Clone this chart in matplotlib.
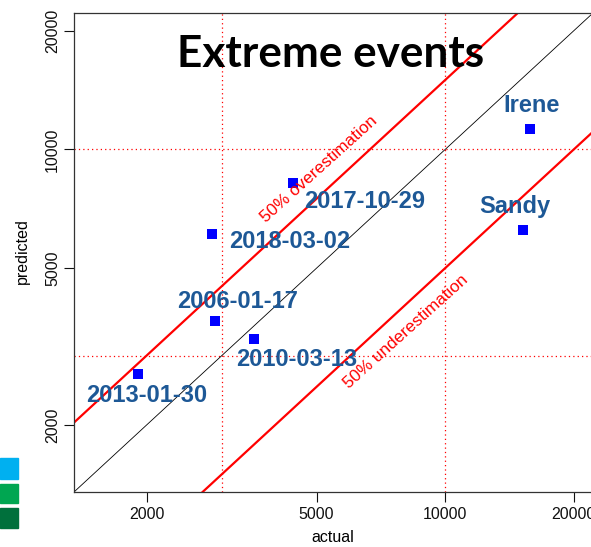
import numpy as np
import matplotlib
matplotlib.use("Agg")
import matplotlib.pyplot as plt
from matplotlib.patches import Rectangle

# ---- data ----
events = ["2013-01-30", "2006-01-17", "2010-03-13", "2018-03-02", "2017-10-29", "Irene", "Sandy"]
actual = [1906, 2899, 3575, 2852, 4411, 15785, 15197]
predicted = [2692, 3667, 3302, 6089, 8198, 11295, 6232]
# label offsets in pixels (dx, dy)
label_offsets = [(9, -21), (22, 20), (42, -20), (77, -7), (71, -18), (2, 23), (-8, 24)]
ticks = [2000, 5000, 10000, 20000]
tick_labels = ["2000", "5000", "10000", "20000"]
ref_lines = [3000, 10000]
over_ratio = 1.5
under_ratio = 0.5

W, H = 591, 547
fig = plt.figure(figsize=(W / 100, H / 100), dpi=100)
plt.rcParams['font.family'] = ['Liberation Sans', 'DejaVu Sans']

# slide background fragments on the left
for (y0, y1, c) in [(458, 479, '#00b0f0'), (484, 503, '#00a651'), (508, 528, '#00703c')]:
    fig.patches.append(Rectangle((0, (H - y1) / H), 18 / W, (y1 - y0) / H,
                                 transform=fig.transFigure, color=c, zorder=0))

L, R, T, B = 74, 593, 13, 492
ax = fig.add_axes([L / W, (H - B) / H, (R - L) / W, (B - T) / H])
ax.set_xscale('log')
ax.set_yscale('log')
lo = 10 ** (np.log10(1500) - 0.04 * (np.log10(20000) - np.log10(1500)))
hi = 10 ** (np.log10(20000) + 0.04 * (np.log10(20000) - np.log10(1500)))

xx = np.array([100, 100000])
ax.plot(xx, xx, color='black', lw=0.6, zorder=2)
ax.plot(xx, over_ratio * xx, color='red', lw=1.6, zorder=2)
ax.plot(xx, under_ratio * xx, color='red', lw=1.6, zorder=2)
for v in ref_lines:
    ax.axvline(v, color='red', lw=0.9, ls=(0, (1, 2.5)), zorder=1)
    ax.axhline(v, color='red', lw=0.9, ls=(0, (1, 2.5)), zorder=1)

ax.set_xlim(lo, hi)
ax.set_ylim(lo, hi)

ax.scatter(actual, predicted, marker='s', s=62, color='#0000ff', zorder=4, linewidths=0)
for name, x, y, (dx, dy) in zip(events, actual, predicted, label_offsets):
    ax.annotate(name, (x, y), xytext=(dx, dy), textcoords='offset pixels',
                ha='center', va='center', fontsize=17, fontweight='bold',
                color='#1d5896', zorder=5)

fig.text(319 / W, (H - 169) / H, "50% overestimation", rotation=42, color='red',
         fontsize=12.3, ha='center', va='center', rotation_mode='anchor')
fig.text(406 / W, (H - 332) / H, "50% underestimation", rotation=42, color='red',
         fontsize=12.3, ha='center', va='center', rotation_mode='anchor')

fig.text(331 / W, (H - 67) / H, "Extreme events", fontsize=31.8, fontweight='bold',
         family=['Lato', 'DejaVu Sans'], ha='center', va='baseline', color='black', zorder=6)

ax.set_xticks(ticks)
ax.set_xticklabels(tick_labels)
ax.set_yticks(ticks)
ax.set_yticklabels(tick_labels, rotation=90, va='center')
ax.minorticks_off()
ax.tick_params(axis='both', direction='out', length=7, width=0.8, labelsize=11.5,
               colors='#111111', pad=3)
ax.tick_params(axis='x', pad=4)
for s in ax.spines.values():
    s.set_color('#333333')
    s.set_linewidth(0.9)

fig.text(333 / W, (H - 538) / H, "actual", fontsize=11.5, ha='center', va='center')
fig.text(22 / W, (H - 251) / H, "predicted", fontsize=11.5, ha='center', va='center', rotation=90)

fig.savefig("out.png", dpi=100)
